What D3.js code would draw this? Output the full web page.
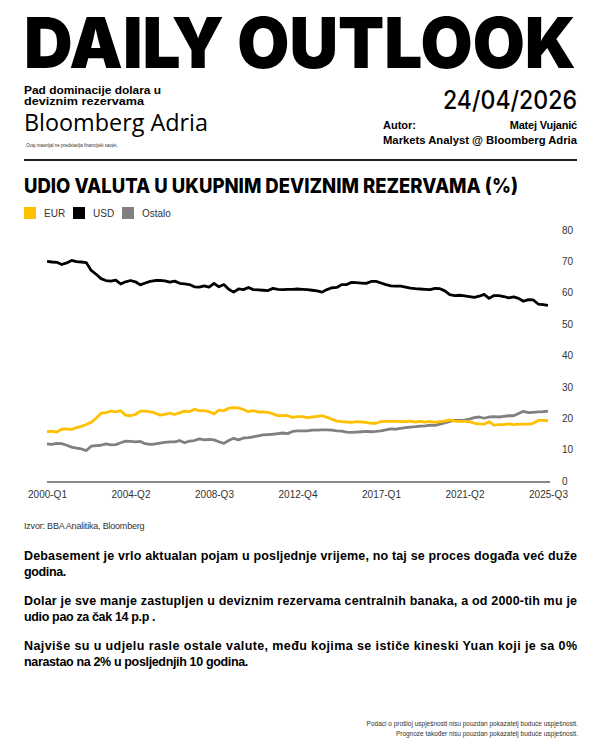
<!DOCTYPE html>
<html><head><meta charset="utf-8">
<script src="https://cdn.jsdelivr.net/npm/d3@7"></script>
<style>
html,body{margin:0;padding:0;background:#fff;}
svg text{font-family:"Liberation Sans",Arial,sans-serif;}
</style></head><body>
<div id="chart"></div>
<script>
// Quarterly, 2000-Q1 .. 2025-Q3
const startYear = 2000;
const nQuarters = 103;
const usd = [70.0,69.8,69.7,69.0,69.5,70.3,69.9,69.8,69.6,67.1,65.9,64.5,63.9,63.7,64.0,62.8,63.5,63.9,63.5,62.5,
  63.1,63.6,63.9,63.9,63.8,63.4,63.7,63.0,62.8,62.6,61.9,61.8,62.2,61.8,63.0,61.9,62.6,61.1,60.2,61.2,
  61.0,61.7,61.0,60.9,60.8,60.7,61.4,61.1,61.0,61.1,61.1,61.2,61.1,61.0,60.8,60.6,60.2,61.0,61.6,61.7,
  62.6,62.6,63.3,63.2,63.1,63.0,63.6,63.6,63.1,62.6,62.2,62.1,62.1,61.8,61.5,61.3,61.2,61.1,61.0,61.4,
  61.3,60.6,59.4,59.1,59.2,59.0,58.8,58.5,58.9,59.5,58.2,59.1,59.1,58.8,58.4,58.7,58.2,57.3,57.8,57.7,
  56.4,56.2,56.0];
const eur = [15.7,15.9,15.6,16.5,16.6,16.4,17.0,17.4,18.0,18.7,20.0,21.6,21.8,22.3,22.0,22.4,21.0,20.8,21.2,22.3,
  22.3,22.0,21.7,21.0,21.2,21.6,21.2,21.7,22.3,22.1,22.9,22.4,22.4,22.1,21.4,22.6,22.4,23.2,23.4,23.3,
  22.8,22.1,22.4,22.0,22.0,21.9,21.4,20.8,20.9,20.8,20.3,20.5,20.5,20.2,20.4,20.6,20.8,20.3,19.7,19.1,
  18.9,18.8,18.7,18.9,18.8,18.7,18.4,18.4,18.9,19.0,19.0,19.0,18.9,18.9,19.1,18.8,19.0,18.8,19.0,18.7,
  18.9,19.1,19.5,19.1,19.0,19.0,18.9,18.4,18.2,18.1,18.9,17.8,18.0,18.0,18.2,18.0,18.1,18.1,18.1,18.4,
  19.3,19.3,19.2];
const ostalo = [11.8,11.7,12.0,11.9,11.4,10.8,10.5,10.2,9.7,11.1,11.3,11.4,11.8,11.5,11.6,12.2,12.7,12.6,12.5,12.6,
  11.9,11.7,11.8,12.1,12.3,12.5,12.5,12.9,12.2,12.7,12.9,13.4,13.1,13.3,13.1,12.5,12.0,12.9,13.6,13.1,
  13.7,13.8,14.1,14.4,14.7,14.8,14.9,15.1,15.3,15.1,15.8,16.0,16.0,16.0,16.2,16.2,16.3,16.3,16.2,16.0,
  15.9,15.6,15.5,15.6,15.7,15.8,15.7,15.8,16.0,16.3,16.6,16.5,16.8,17.0,17.2,17.3,17.5,17.6,17.8,17.7,
  18.1,18.5,19.0,19.3,19.3,19.4,19.7,20.2,20.4,20.0,20.4,20.5,20.4,20.6,20.8,20.8,21.5,22.2,21.8,21.9,
  22.0,22.1,22.3];
const quarters = d3.range(nQuarters).map(i => `${startYear + Math.floor(i/4)}-Q${i%4+1}`);
const xTickLabels = ["2000-Q1","2004-Q2","2008-Q3","2012-Q4","2017-Q1","2021-Q2","2025-Q3"];
const yTicks = [0,10,20,30,40,50,60,70,80];
const seriesNames = ["EUR","USD","Ostalo"];
const seriesColors = ["#FFC000","#000000","#808080"];
const seriesData = [eur, usd, ostalo];

const W = 600, H = 750;
const svg = d3.select("#chart").append("svg").attr("width", W).attr("height", H);

// Header
svg.append("text").attr("x", 24).attr("y", 68)
  .attr("textLength", 552).attr("lengthAdjust", "spacingAndGlyphs")
  .style("font-family", "Inter, 'Liberation Sans', sans-serif").style("font-weight", 900)
  .style("font-size", "70px").attr("fill", "#000").text("DAILY OUTLOOK");

const sub = svg.append("g").style("font-weight", 700).style("font-size", "11px").attr("fill", "#000")
  .style("font-family", "Inter, 'Liberation Sans', sans-serif");
sub.append("text").attr("x", 24).attr("y", 94).attr("textLength", 137).attr("lengthAdjust", "spacingAndGlyphs").text("Pad dominacije dolara u");
sub.append("text").attr("x", 24).attr("y", 105).attr("textLength", 120).attr("lengthAdjust", "spacingAndGlyphs").text("deviznim rezervama");

svg.append("text").attr("x", 24).attr("y", 131).style("font-size", "23px")
  .style("font-family", "'Open Sans','Liberation Sans',sans-serif")
  .attr("textLength", 184).attr("lengthAdjust", "spacingAndGlyphs").attr("fill", "#000").text("Bloomberg Adria");
svg.append("text").attr("x", 26).attr("y", 147).style("font-size", "4.5px").attr("fill", "#333")
  .text("Ovaj materijal ne predstavlja financijski savjet.");

svg.append("text").attr("x", 577).attr("y", 109).attr("text-anchor", "end")
  .style("font-family", "Inter, 'Liberation Sans', sans-serif").style("font-weight", 500)
  .style("font-size", "25px").attr("textLength", 134).attr("lengthAdjust", "spacingAndGlyphs")
  .attr("fill", "#000").text("24/04/2026");
const au = svg.append("g").style("font-weight", 700).style("font-size", "11px").attr("fill", "#000");
au.append("text").attr("x", 383).attr("y", 129).text("Autor:");
au.append("text").attr("x", 577).attr("y", 129).attr("text-anchor", "end").attr("letter-spacing", -0.2).text("Matej Vujanić");
au.append("text").attr("x", 383).attr("y", 144).attr("textLength", 194).attr("lengthAdjust", "spacingAndGlyphs")
  .text("Markets Analyst @ Bloomberg Adria");

svg.append("line").attr("x1", 24).attr("x2", 577).attr("y1", 160).attr("y2", 160)
  .attr("stroke", "#222").attr("stroke-width", 2);

// Chart title
svg.append("text").attr("x", 24).attr("y", 193)
  .style("font-family", "Inter, 'Liberation Sans', sans-serif")
  .style("font-weight", 800).style("font-size", "20px")
  .attr("textLength", 494).attr("lengthAdjust", "spacingAndGlyphs")
  .attr("fill", "#000").text("UDIO VALUTA U UKUPNIM DEVIZNIM REZERVAMA (%)");

// Legend
const legX = [24, 73, 122];
const leg = svg.append("g");
seriesNames.forEach((n, i) => {
  leg.append("rect").attr("x", legX[i]).attr("y", 207).attr("width", 12).attr("height", 12).attr("fill", seriesColors[i]);
  leg.append("text").attr("x", legX[i] + 20).attr("y", 217).style("font-size", "10px").attr("fill", "#333").text(n);
});

// Scales
const x = d3.scaleLinear().domain([0, nQuarters - 1]).range([47, 548]);
const y = d3.scaleLinear().domain([0, 80]).range([481, 230]);

// y axis labels (right)
const yAxis = d3.axisRight(y).tickValues(yTicks).tickSize(0).tickPadding(0).tickFormat(d3.format("d"));
const gy = svg.append("g").attr("transform", "translate(562,0)").call(yAxis);
gy.select(".domain").remove();
gy.selectAll("text").style("font-size", "10px").style("font-family", "'Liberation Sans',Arial,sans-serif").attr("fill", "#333");

// x axis
const xTickIdx = xTickLabels.map(l => quarters.indexOf(l));
const xAxis = d3.axisBottom(x).tickValues(xTickIdx).tickSize(0).tickPadding(9).tickFormat(i => quarters[i]);
const gx = svg.append("g").attr("transform", "translate(0,482)").call(xAxis);
gx.select(".domain").remove();
gx.selectAll("text").style("font-size", "10px").style("font-family", "'Liberation Sans',Arial,sans-serif").attr("fill", "#333");
svg.append("line").attr("x1", x(0)).attr("x2", 550).attr("y1", 482).attr("y2", 482)
  .attr("stroke", "#888").attr("stroke-width", 2);

// lines
const line = d3.line().x((d, i) => x(i)).y(d => y(d));
[2, 0, 1].forEach(k => {
  svg.append("path").datum(seriesData[k]).attr("d", line)
    .attr("fill", "none").attr("stroke", seriesColors[k]).attr("stroke-width", 2.8)
    .attr("stroke-linejoin", "round");
});

// source
svg.append("text").attr("x", 24).attr("y", 529).style("font-size", "9px").attr("fill", "#333")
  .attr("letter-spacing", -0.2).text("Izvor: BBA Analitika, Bloomberg");

// paragraphs
const para = svg.append("g").style("font-weight", 700).style("font-size", "12.5px").attr("fill", "#000");
const paraLines = [
  {t: "Debasement je vrlo aktualan pojam u posljednje vrijeme, no taj se proces događa već duže", y: 560, j: true},
  {t: "godina.", y: 576, j: false},
  {t: "Dolar je sve manje zastupljen u deviznim rezervama centralnih banaka, a od 2000-tih mu je", y: 605, j: true},
  {t: "udio pao za čak 14 p.p .", y: 621, j: false},
  {t: "Najviše su u udjelu rasle ostale valute, među kojima se ističe kineski Yuan koji je sa 0%", y: 650, j: true},
  {t: "narastao na 2% u posljednjih 10 godina.", y: 666, j: false}
];
paraLines.forEach(p => {
  const t = para.append("text").attr("x", 24).attr("y", p.y).text(p.t);
  if (p.j) t.attr("textLength", 553).attr("lengthAdjust", "spacing");
  else t.attr("letter-spacing", -0.35);
});

// footer
const ft = svg.append("g").style("font-size", "6.5px").attr("fill", "#333").attr("text-anchor", "end");
ft.append("text").attr("x", 578).attr("y", 726).text("Podaci o prošloj uspješnosti nisu pouzdan pokazatelj buduće uspješnosti.");
ft.append("text").attr("x", 578).attr("y", 736).text("Prognoze također nisu pouzdan pokazatelj buduće uspješnosti.");
</script>
</body></html>
